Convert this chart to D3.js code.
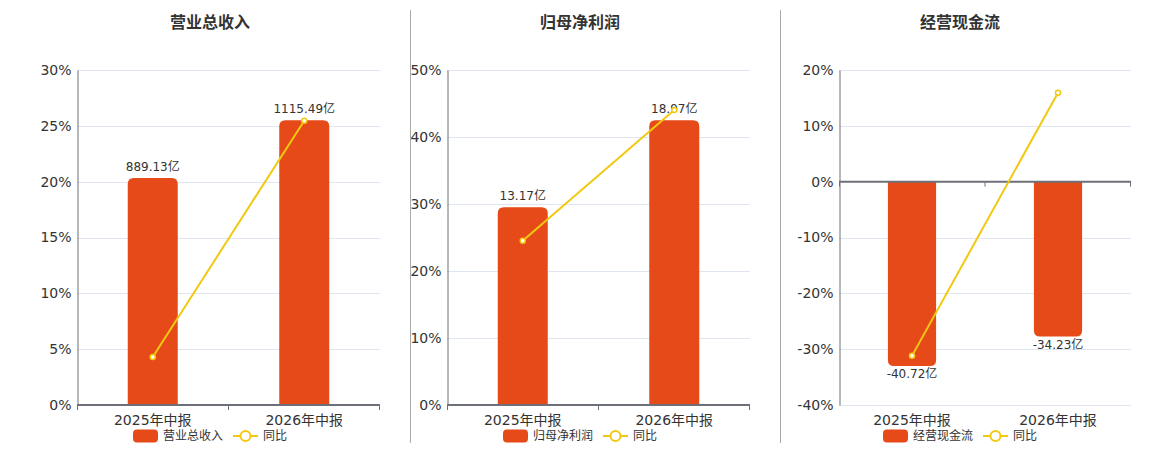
<!DOCTYPE html>
<html>
<head>
<meta charset="utf-8">
<script src="https://cdn.jsdelivr.net/npm/d3@7/dist/d3.min.js"></script>
<style>
  html, body { margin: 0; padding: 0; background: #fff; }
  svg { display: block; font-family: "DejaVu Sans", "Noto Sans CJK SC", sans-serif; }
</style>
</head>
<body>
<svg id="chart" width="1160" height="450"></svg>
<script>
// ---- data ----
const categories = ["2025年中报", "2026年中报"];
const titles = ["营业总收入", "归母净利润", "经营现金流"];
const amountUnit = "亿";
const revenueAmounts = [889.13, 1115.49];
const profitAmounts = [13.17, 18.97];
const cashflowAmounts = [-40.72, -34.23];
const revenueYoY = [4.3, 25.46];
const profitYoY = [24.5, 44.04];
const cashflowYoY = [-31.2, 15.94];
const revenueTicks = [0, 5, 10, 15, 20, 25, 30];
const profitTicks = [0, 10, 20, 30, 40, 50];
const cashflowTicks = [-40, -30, -20, -10, 0, 10, 20];
const legendLine = "同比";

// ---- layout / style ----
const gridTop = 70, gridBottom = 405;
const barColor = "#E64A19";
const lineColor = "#F2C811";
const panels = [
  { title: titles[0], amounts: revenueAmounts, yoy: revenueYoY, ticks: revenueTicks, left: 77, right: 380, cx: 210, fill: 0.85 },
  { title: titles[1], amounts: profitAmounts, yoy: profitYoY, ticks: profitTicks, left: 447, right: 750, cx: 580, fill: 0.85 },
  { title: titles[2], amounts: cashflowAmounts, yoy: cashflowYoY, ticks: cashflowTicks, left: 839, right: 1131, cx: 960, fill: 0.825 }
];
const dividers = [410, 780];

const svg = d3.select("#chart");

svg.selectAll("line.divider").data(dividers).enter().append("line")
  .attr("class", "divider")
  .attr("x1", d => d + 0.5).attr("x2", d => d + 0.5)
  .attr("y1", 10).attr("y2", 443)
  .attr("stroke", "#aaa").attr("stroke-width", 1);

function barPath(x, w, y0, y1, r) {
  const h = Math.abs(y1 - y0);
  r = Math.min(r, h, w / 2);
  if (y1 <= y0) {
    return `M${x},${y0} L${x},${y1 + r} Q${x},${y1} ${x + r},${y1} L${x + w - r},${y1} Q${x + w},${y1} ${x + w},${y1 + r} L${x + w},${y0} Z`;
  } else {
    return `M${x},${y0} L${x},${y1 - r} Q${x},${y1} ${x + r},${y1} L${x + w - r},${y1} Q${x + w},${y1} ${x + w},${y1 - r} L${x + w},${y0} Z`;
  }
}

panels.forEach(p => {
  const g = svg.append("g");
  const tmin = d3.min(p.ticks), tmax = d3.max(p.ticks);
  const y = d3.scaleLinear().domain([tmin, tmax]).range([gridBottom, gridTop]);
  const zeroY = y(0);
  const maxAbs = d3.max(p.amounts, d => Math.abs(d));
  const hasNeg = d3.min(p.amounts) < 0;
  const extentPx = hasNeg ? (gridBottom - zeroY) : (zeroY - gridTop);
  const pxPerUnit = extentPx * p.fill / maxAbs;
  const yb = d3.scaleLinear()
    .domain([(zeroY - gridBottom) / pxPerUnit, (zeroY - gridTop) / pxPerUnit])
    .range([gridBottom, gridTop]);

  const x = d3.scaleBand().domain(categories).range([p.left, p.right]).padding(0);
  const bw = x.bandwidth() * 0.33;

  g.append("text").attr("x", p.cx).attr("y", 22)
    .attr("text-anchor", "middle").attr("dominant-baseline", "central")
    .attr("font-size", 16).attr("font-weight", "bold").attr("fill", "#333")
    .text(p.title);

  g.selectAll("line.grid").data(p.ticks.filter(t => t !== 0)).enter().append("line")
    .attr("x1", p.left).attr("x2", p.right)
    .attr("y1", d => Math.round(y(d)) + 0.5).attr("y2", d => Math.round(y(d)) + 0.5)
    .attr("stroke", "#E0E6F1").attr("stroke-width", 1);

  const yAxis = d3.axisLeft(y).tickValues(p.ticks).tickFormat(d => d + "%").tickSize(0).tickPadding(6);
  const ya = g.append("g").attr("transform", `translate(${p.left + 0.5},0)`).call(yAxis);
  ya.select(".domain").attr("stroke", "#6E7079").attr("stroke-width", 1);
  ya.selectAll("text").attr("font-size", 14).attr("fill", "#333")
    .attr("font-family", "'DejaVu Sans', sans-serif");

  g.selectAll("path.bar").data(p.amounts).enter().append("path")
    .attr("d", (d, i) => barPath(x(categories[i]) + (x.bandwidth() - bw) / 2, bw, yb(0), yb(d), 6))
    .attr("fill", barColor);

  g.selectAll("text.blab").data(p.amounts).enter().append("text")
    .attr("x", (d, i) => x(categories[i]) + x.bandwidth() / 2)
    .attr("y", d => d >= 0 ? yb(d) - 11 : yb(d) + 8)
    .attr("text-anchor", "middle").attr("dominant-baseline", "central")
    .attr("font-size", 12).attr("fill", "#333")
    .text(d => d.toFixed(2) + amountUnit);

  const xAxis = d3.axisBottom(x).tickSize(0).tickFormat("");
  const xa = g.append("g").attr("transform", `translate(0,${zeroY})`).call(xAxis);
  xa.select(".domain").attr("stroke", "#6E7079").attr("stroke-width", 2)
    .attr("d", `M${p.left},0H${p.right}`);
  xa.selectAll(".tick").remove();
  const boundaries = [p.left + 0.5, (p.left + p.right) / 2, p.right - 0.5];
  xa.selectAll("line.bt").data(boundaries).enter().append("line")
    .attr("x1", d => d).attr("x2", d => d).attr("y1", 0).attr("y2", 5)
    .attr("stroke", "#6E7079").attr("stroke-width", 1);

  g.selectAll("text.xl").data(categories).enter().append("text")
    .attr("x", d => x(d) + x.bandwidth() / 2).attr("y", 420)
    .attr("text-anchor", "middle").attr("dominant-baseline", "central")
    .attr("font-size", 14).attr("fill", "#333")
    .text(d => d);

  const line = d3.line().x((d, i) => x(categories[i]) + x.bandwidth() / 2).y(d => y(d));
  g.append("path").datum(p.yoy).attr("d", line)
    .attr("fill", "none").attr("stroke", lineColor).attr("stroke-width", 2);
  g.selectAll("circle.pt").data(p.yoy).enter().append("circle")
    .attr("cx", (d, i) => x(categories[i]) + x.bandwidth() / 2).attr("cy", d => y(d))
    .attr("r", 2.5).attr("fill", "#fff").attr("stroke", lineColor).attr("stroke-width", 1.5);

  const lg = g.append("g");
  const name1 = p.title;
  const t1w = name1.length * 12, t2w = legendLine.length * 12;
  const total = 25 + 5 + t1w + 10 + 25 + 5 + t2w;
  let lx = p.cx - total / 2;
  const ly = 436;
  lg.append("rect").attr("x", lx).attr("y", ly - 6.5).attr("width", 25).attr("height", 13)
    .attr("rx", 4).attr("fill", barColor);
  lg.append("text").attr("x", lx + 30).attr("y", ly).attr("dominant-baseline", "central")
    .attr("font-size", 12).attr("fill", "#333").text(name1);
  lx += 30 + t1w + 10;
  lg.append("line").attr("x1", lx).attr("x2", lx + 25).attr("y1", ly).attr("y2", ly)
    .attr("stroke", lineColor).attr("stroke-width", 2);
  lg.append("circle").attr("cx", lx + 12.5).attr("cy", ly).attr("r", 5)
    .attr("fill", "#fff").attr("stroke", lineColor).attr("stroke-width", 2);
  lg.append("text").attr("x", lx + 30).attr("y", ly).attr("dominant-baseline", "central")
    .attr("font-size", 12).attr("fill", "#333").text(legendLine);
});
</script>
</body>
</html>
